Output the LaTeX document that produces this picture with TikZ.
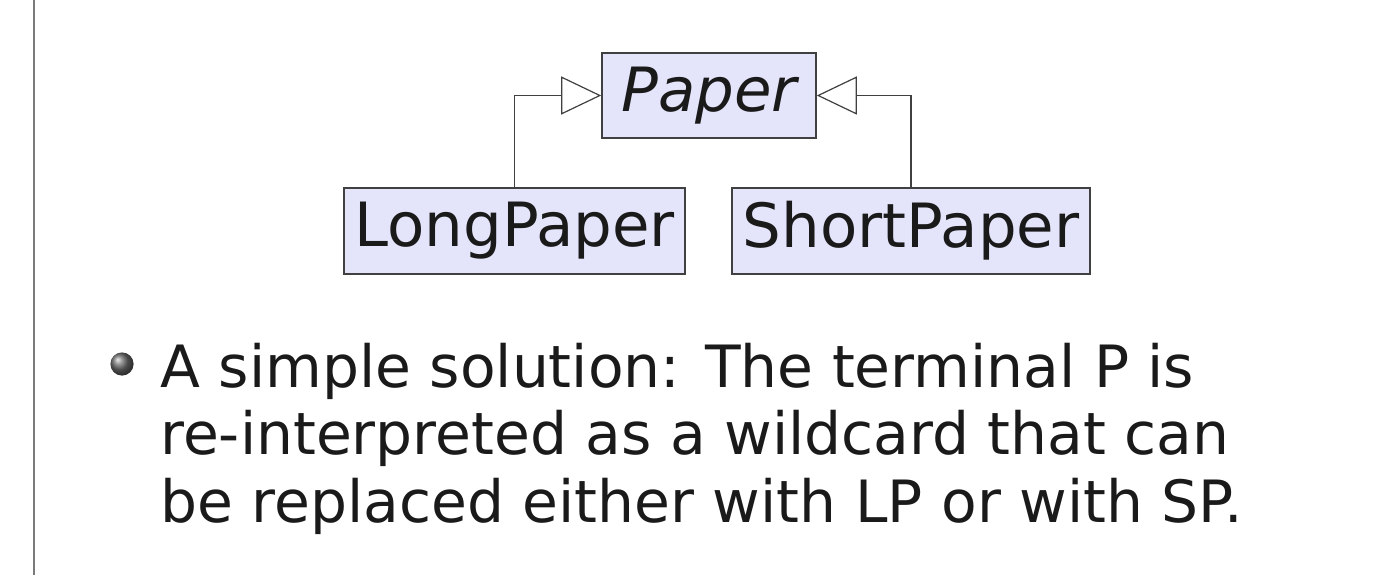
\documentclass[tikz,border=0pt]{standalone}
\usepackage{fontspec}
\setmainfont{DejaVu Sans}
\usetikzlibrary{arrows.meta,shadings}
\definecolor{classfill}{HTML}{E4E4FA}
\definecolor{classedge}{HTML}{404040}
\definecolor{rulegray}{HTML}{7A7A7A}
\definecolor{textblack}{HTML}{1A1A1A}
\tikzset{
  classbox/.style={draw=classedge, fill=classfill, line width=0.8pt,
    inner sep=0pt, text=textblack, font=\fontsize{30.5}{36}\selectfont},
  inherit/.style={draw=classedge, line width=0.6pt,
    -{Triangle[open, length=20pt, width=19pt, fill=white]}},
}
\begin{document}
\begin{tikzpicture}[x=0.5pt, y=-0.5pt]
  \useasboundingbox (0,0) rectangle (1400,577);
  % left margin rule
  \draw[rulegray, line width=1.1pt] (34,0) -- (34,575);

  % class boxes
  \node[classbox, minimum width=107pt, minimum height=42.5pt] (paper) at (709,95.5) {\itshape Paper};
  \node[classbox, minimum width=170.5pt, minimum height=43pt] (lp) at (514.5,231) {LongPaper};
  \node[classbox, minimum width=179pt, minimum height=43pt] (sp) at (911,231) {ShortPaper};

  % generalisation connectors
  \draw[inherit] (lp.north) |- (paper.west);
  \draw[inherit] (sp.north) |- (paper.east);

  % bullet item
  \shade[ball color=gray!85!black] (122,364) circle (5.8pt);
  \node[anchor=base west, inner sep=0pt, align=left, text=textblack,
        font=\fontsize{29.15}{33.75}\selectfont] (item) at (160,522)
    {A simple solution: The terminal P is\\
     re-interpreted as a wildcard that can\\
     be replaced either with LP or with SP.};
\end{tikzpicture}
\end{document}
